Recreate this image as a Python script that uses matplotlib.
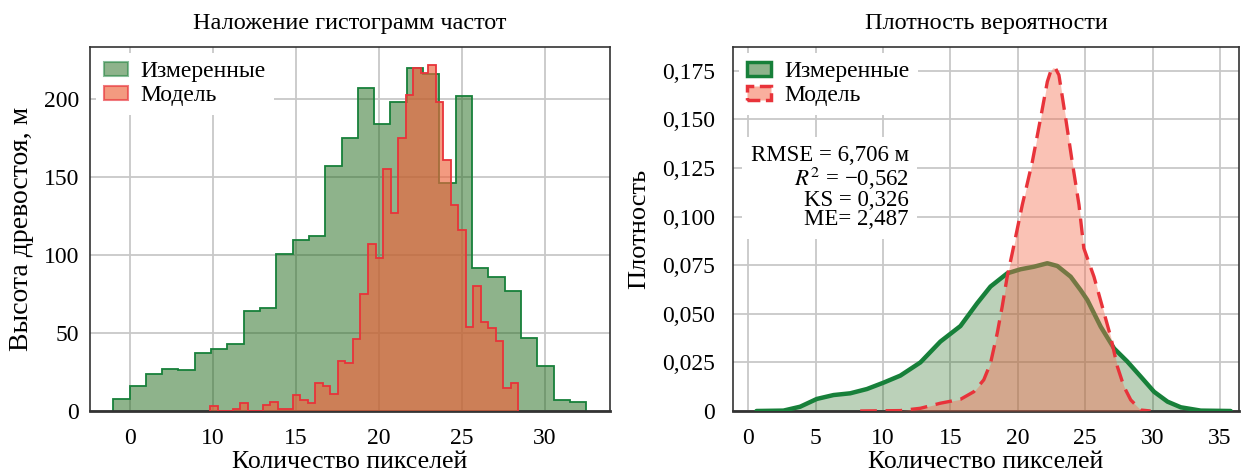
import numpy as np
import matplotlib
matplotlib.use('Agg')
import matplotlib.pyplot as plt
from matplotlib.patches import Patch
from matplotlib.ticker import FuncFormatter

# ---------------- data ----------------
# Left panel: histogram counts (measured, 29 bins) and model (41 bins)
meas_range = (3.99, 32.49)
meas_counts = [8, 16, 24, 27, 26, 37, 40, 43, 64, 66, 101, 110, 112, 157, 175,
               207, 184, 198, 220, 216, 146, 202, 92, 86, 77, 47, 29, 7, 6]
model_range = (9.82, 28.41)
model_counts = [3, 0, 0, 1, 5, 0, 0, 4, 6, 1, 1, 10, 7, 5, 18, 16, 11, 32, 31,
                46, 75, 107, 98, 155, 127, 175, 203, 220, 217, 222, 198, 161,
                132, 116, 54, 80, 57, 53, 45, 15, 18]
left_xticks = [5, 10, 15, 20, 25, 30]
left_xticklabels = ['0', '10', '15', '20', '25', '30']
left_yticks = [0, 50, 100, 150, 200]

# Right panel: density curves
kde_meas_x = [0.6, 2.6, 3.84, 5.08, 6.32, 7.56, 8.8, 10.04, 11.28, 12.77, 14.25,
              15.74, 16.98, 17.97, 19.21, 20.2, 21.19, 22.19, 22.93, 23.92,
              24.66, 25.16, 26.15, 27.14, 28.13, 29.12, 30.11, 31.11, 32.1,
              33.58, 35.8]
kde_meas_y = [0.0, 0.0002, 0.0022, 0.0062, 0.0082, 0.0091, 0.0113, 0.0146,
              0.0182, 0.025, 0.0357, 0.0437, 0.0554, 0.064, 0.0708, 0.0729,
              0.0742, 0.076, 0.0746, 0.0691, 0.0622, 0.0571, 0.0434, 0.0322,
              0.0254, 0.0177, 0.0099, 0.0048, 0.0019, 0.0002, 0.0]
kde_model_x = [8.3, 11.28, 12.77, 14.25, 15.74, 16.73, 17.47, 17.97, 18.47,
               18.84, 19.21, 19.58, 20.33, 21.07, 21.69, 22.19, 22.45, 22.6,
               22.8, 23.05, 23.55, 24.04, 24.54, 24.9, 25.65, 26.27, 26.89,
               27.39, 27.88, 28.38, 29.12, 29.86]
kde_model_y = [0.0, 0.0002, 0.0014, 0.004, 0.006, 0.0099, 0.016, 0.0245, 0.040,
               0.0537, 0.0691, 0.081, 0.106, 0.128, 0.1506, 0.1694, 0.175,
               0.1766, 0.1762, 0.1728, 0.1506, 0.128, 0.106, 0.0837, 0.0691,
               0.0537, 0.0382, 0.0228, 0.0125, 0.0057, 0.0005, 0.0]
right_xticks = [0, 5, 10, 15, 20, 25, 30, 35]
right_yticks = [0, 0.025, 0.05, 0.075, 0.1, 0.125, 0.15, 0.175]

labels = ['Измеренные', 'Модель']
stats_text = ('RMSE = 6,706 м\n$R^2$ = \u22120,562\nKS = 0,326\nME= 2,487')

# ---------------- style ----------------
plt.rcParams['font.family'] = ['Liberation Serif', 'DejaVu Serif']
plt.rcParams['mathtext.fontset'] = 'stix'

GREEN_FACE = '#1f6919'
GREEN_EDGE = '#17803a'
RED_FACE = '#ee643c'
RED_EDGE = '#e8333a'
KDE_RED_FACE = '#f56e50'
GRID = '#c8c8c8'
SPINE = '#333333'

fig = plt.figure(figsize=(12.45, 4.73), dpi=100)
ax1 = fig.add_axes([0.0723, 0.1311, 0.4177, 0.769])
ax2 = fig.add_axes([0.589, 0.1311, 0.406, 0.769])

for ax in (ax1, ax2):
    ax.set_axisbelow(True)
    ax.grid(True, color=GRID, lw=1.3)
    for s in ax.spines.values():
        s.set_color(SPINE)
        s.set_linewidth(1.2)
    ax.spines['bottom'].set_linewidth(2.0)
    ax.tick_params(length=0, labelsize=17)

leg_kw = dict(loc='upper left', fontsize=17, frameon=True, framealpha=1,
              edgecolor='none', fancybox=False, handlelength=1.0,
              handleheight=0.55, handletextpad=0.55, borderaxespad=0.25,
              labelspacing=0.12, borderpad=0.35)

# ---------------- left ----------------
e_meas = np.linspace(meas_range[0], meas_range[1], len(meas_counts) + 1)
e_model = np.linspace(model_range[0], model_range[1], len(model_counts) + 1)
ax1.stairs(meas_counts, e_meas, fill=True, color=GREEN_FACE, alpha=0.5, lw=0, zorder=2)
ax1.stairs(meas_counts, e_meas, color=GREEN_EDGE, lw=1.3, baseline=0, zorder=2)
ax1.stairs(model_counts, e_model, fill=True, color=RED_FACE, alpha=0.65, lw=0, zorder=3)
ax1.stairs(model_counts, e_model, color=RED_EDGE, lw=1.3, baseline=0, zorder=3)

ax1.set_xlim(2.59, 33.93)
ax1.set_ylim(0, 233.4)
ax1.set_xticks(left_xticks)
ax1.set_xticklabels(left_xticklabels)
ax1.set_yticks(left_yticks)
ax1.tick_params(axis='x', pad=12)
ax1.tick_params(axis='y', pad=8)
ax1.set_title('Наложение гистограмм частот', fontsize=17.5, pad=13)
ax1.set_xlabel('Количество пикселей', fontsize=18.5, labelpad=2)
ax1.set_ylabel('Высота древостоя, м', fontsize=20, labelpad=7)

h1 = [Patch(facecolor=GREEN_FACE, alpha=0.5, edgecolor=GREEN_EDGE, lw=1.5),
      Patch(facecolor=RED_FACE, alpha=0.65, edgecolor=RED_EDGE, lw=1.5)]
ax1.legend(h1, labels, **leg_kw)

# ---------------- right ----------------
ax2.fill_between(kde_meas_x, kde_meas_y, color=GREEN_FACE, alpha=0.3, lw=0, zorder=2)
ax2.plot(kde_meas_x, kde_meas_y, color=GREEN_EDGE, lw=3.2, zorder=3,
         solid_capstyle='round', solid_joinstyle='round')
ax2.fill_between(kde_model_x, kde_model_y, color=KDE_RED_FACE, alpha=0.42, lw=0, zorder=4)
ax2.plot(kde_model_x, kde_model_y, color=RED_EDGE, lw=2.4, zorder=5,
         linestyle=(0, (5, 2.6)), dash_joinstyle='round')

ax2.set_xlim(-1.12, 36.4)
ax2.set_ylim(0, 0.1871)
ax2.set_xticks(right_xticks)
ax2.set_yticks(right_yticks)
ax2.yaxis.set_major_formatter(FuncFormatter(
    lambda v, p: '0' if abs(v) < 1e-12 else f'{v:.3f}'.replace('.', ',')))
ax2.tick_params(axis='x', pad=12)
ax2.tick_params(axis='y', pad=13)
ax2.set_title('Плотность вероятности', fontsize=17.5, pad=13)
ax2.set_xlabel('Количество пикселей', fontsize=18.5, labelpad=2)
ax2.set_ylabel('Плотность', fontsize=19, labelpad=9)

h2 = [Patch(facecolor=(0.12, 0.41, 0.10, 0.5), edgecolor=GREEN_EDGE, lw=2.5),
      Patch(facecolor=(0.96, 0.43, 0.31, 0.55), edgecolor=RED_EDGE, lw=2.5, linestyle='--')]
ax2.legend(h2, labels, **leg_kw)

ax2.text(0.347, 0.73, stats_text, transform=ax2.transAxes, ha='right', va='top',
         multialignment='right', fontsize=16.5, linespacing=0.9, zorder=6,
         bbox=dict(facecolor='white', edgecolor='none', pad=6))

fig.savefig('out.png', dpi=100)
